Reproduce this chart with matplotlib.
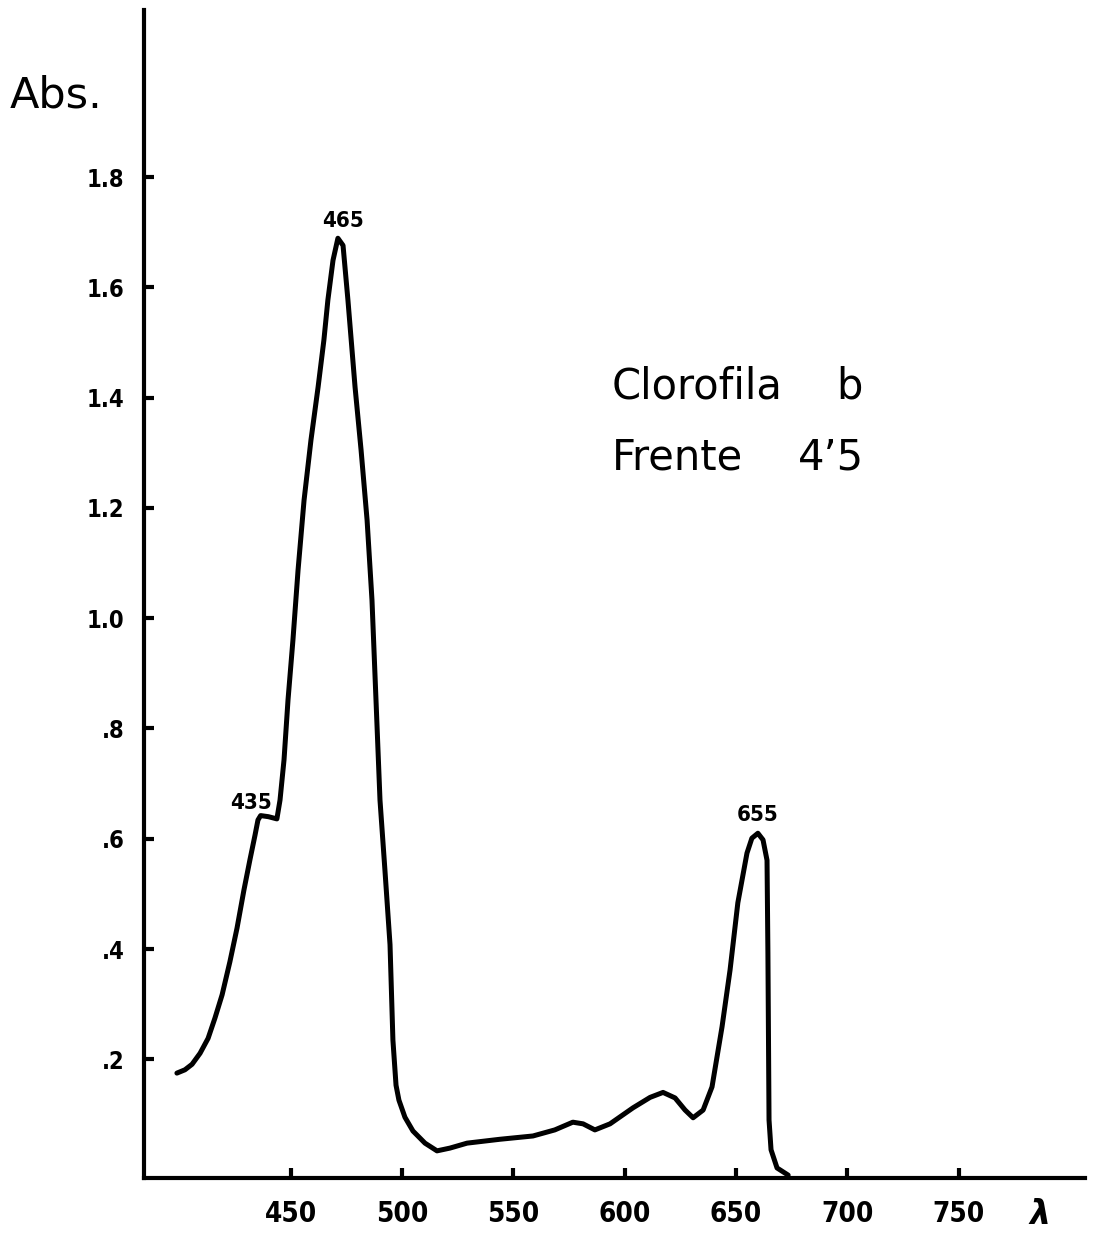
import matplotlib
matplotlib.use("Agg")
from matplotlib import pyplot as plt

wavelength = [398.9, 402.5, 405.7, 409.3, 412.9, 416.0, 419.2, 422.7, 425.9, 429.0,
              431.7, 434.0, 435.3, 436.5, 440.0, 443.8, 445.2, 447.0, 448.8, 451.0,
              453.3, 456.0, 459.1, 462.3, 464.9, 466.7, 469.0, 471.2, 473.5, 475.7,
              478.9, 481.6, 484.3, 486.5, 488.3, 490.1, 492.3, 494.6, 495.9, 497.3,
              498.6, 501.3, 504.9, 510.3, 515.7, 521.5, 529.2, 543.9, 558.8, 568.6,
              576.7, 581.3, 586.6, 593.4, 603.7, 611.4, 617.2, 622.6, 627.1, 630.7,
              635.2, 639.2, 643.7, 647.3, 650.8, 654.9, 657.1, 659.8, 662.1, 663.9,
              664.3, 664.6, 664.8, 665.7, 668.4, 673.4]
absorbance = [0.175, 0.181, 0.191, 0.211, 0.238, 0.275, 0.317, 0.377, 0.438, 0.507,
              0.562, 0.607, 0.634, 0.642, 0.640, 0.636, 0.670, 0.743, 0.852, 0.960,
              1.087, 1.214, 1.323, 1.419, 1.504, 1.577, 1.649, 1.689, 1.676, 1.577,
              1.419, 1.305, 1.178, 1.033, 0.852, 0.670, 0.544, 0.408, 0.235, 0.153,
              0.126, 0.095, 0.070, 0.048, 0.034, 0.039, 0.048, 0.055, 0.061, 0.072,
              0.086, 0.083, 0.072, 0.083, 0.112, 0.131, 0.140, 0.130, 0.108, 0.094,
              0.108, 0.150, 0.259, 0.362, 0.484, 0.574, 0.601, 0.610, 0.598, 0.561,
              0.393, 0.211, 0.090, 0.036, 0.003, -0.010]

x_ticks = [450, 500, 550, 600, 650, 700, 750]
y_ticks = [0.2, 0.4, 0.6, 0.8, 1.0, 1.2, 1.4, 1.6, 1.8]
y_labels = ['.2', '.4', '.6', '.8', '1.0', '1.2', '1.4', '1.6', '1.8']

# picos marcados: (etiqueta, lambda, abs)
peak_names = ['435', '465', '655']
peak_x = [432.2, 473.4, 659.9]
peak_y = [0.665, 1.720, 0.643]

fig = plt.figure(figsize=(10.93, 12.43), dpi=100)
ax = fig.add_axes([0.1317, 0.0523, 0.861, 0.9397])

ax.plot(wavelength, absorbance, color='black', linewidth=3.6,
        solid_capstyle='round', solid_joinstyle='round')

ax.set_xlim(384.1, 806.7)
ax.set_ylim(-0.0152, 2.103)

# solo ejes izquierdo e inferior
ax.spines['top'].set_visible(False)
ax.spines['right'].set_visible(False)
ax.spines['left'].set_linewidth(3)
ax.spines['bottom'].set_linewidth(3)

tick_font = dict(family='DejaVu Sans', weight='bold', stretch='condensed')
ax.set_xticks(x_ticks)
ax.set_xticklabels([str(v) for v in x_ticks], fontsize=20, **tick_font)
ax.set_yticks(y_ticks)
ax.set_yticklabels(y_labels, fontsize=17, **tick_font)
ax.tick_params(axis='x', direction='in', length=7, width=3, pad=16)
ax.tick_params(axis='y', direction='in', length=7, width=3, pad=14)

for name, px, py in zip(peak_names, peak_x, peak_y):
    ax.text(px, py, name, ha='center', va='center', fontsize=16, **tick_font)

ax.text(594.3, 1.399, 'Clorofila', fontsize=30, ha='left', va='baseline')
ax.text(695.2, 1.399, 'b', fontsize=30, ha='left', va='baseline')
ax.text(594.3, 1.269, 'Frente', fontsize=30, ha='left', va='baseline')
ax.text(677.9, 1.269, "4’5", fontsize=30, ha='left', va='baseline')

fig.text(10 / 1093, 1 - 96 / 1243, 'Abs.', fontsize=31, ha='left', va='center')
fig.text(1040 / 1093, 1 - 1215 / 1243, 'λ', fontsize=24, ha='center', va='center',
         weight='bold', style='italic')

plt.savefig('out.png', dpi=100)
